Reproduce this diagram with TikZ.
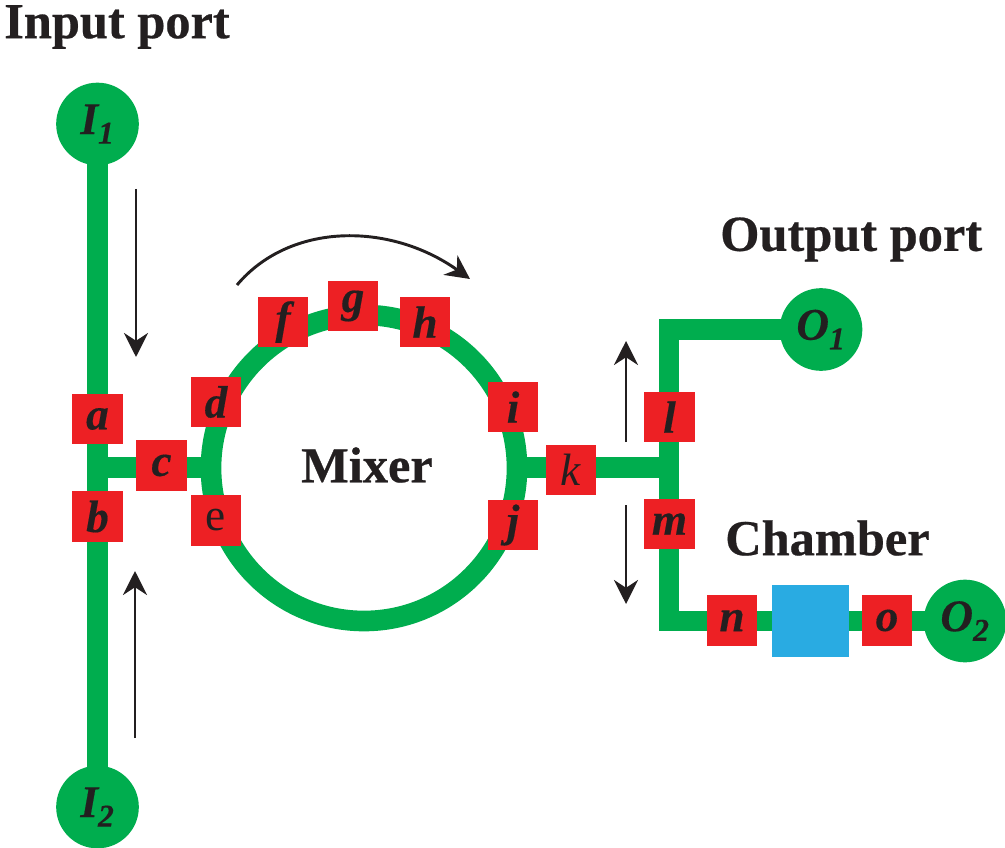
\documentclass[tikz,border=0pt]{standalone}
\usepackage{fontspec}
\setmainfont{Liberation Serif}
\newfontfamily\headfont[FakeBold=0.5]{Liberation Serif Bold}
\newfontfamily\labfont[FakeBold=0.3]{Liberation Serif Bold Italic}
\usetikzlibrary{arrows.meta,backgrounds}
\definecolor{grn}{RGB}{0,173,78}
\definecolor{rd}{RGB}{237,32,36}
\definecolor{blu}{RGB}{41,171,226}
\definecolor{ink}{RGB}{35,31,32}
\tikzset{
 x=0.75pt,y=-0.75pt,
 pipe/.style={draw=grn,line width=15.5pt},
 port/.style={circle,fill=grn,minimum size=62pt,inner sep=0pt},
 portlab/.style={font=\fontsize{34pt}{34pt}\labfont,text=ink,inner sep=0pt},
 valve/.style={rectangle,fill=rd,minimum size=38pt,inner sep=0pt,font=\fontsize{34pt}{34pt}\labfont,text=ink},
 title/.style={font=\fontsize{37.8pt}{38pt}\headfont,text=ink,inner sep=0pt},
 flow/.style={draw=ink,line width=2.2pt,-{Stealth[length=18pt,width=18pt]}}
}
\begin{document}
\begin{tikzpicture}
\useasboundingbox (0,0) rectangle (1005,848);
\coordinate (ringc) at (364,468);
\coordinate (jL) at (97.5,467.5);
\coordinate (jR) at (669,467.5);
\coordinate (ringL) at (215,467.5);
\coordinate (ringR) at (517,467.5);
\node[port] (I1) at (97.5,124) {};
\node[port] (I2) at (97.5,807) {};
\node[port] (O1) at (821,329.5) {};
\node[port] (O2) at (965,621) {};
\coordinate (cor1) at (669,329.5);
\coordinate (cor2) at (669,621);
\begin{pgfonlayer}{background}
\draw[pipe] (I1.center) -- (I2.center);
\draw[pipe] (jL) -- (ringL);
\draw[pipe] (ringc) circle (153);
\draw[pipe] (ringR) -- (jR);
\draw[pipe,line join=miter] (O1.center) -- (cor1) -- (cor2) -- (O2.center);
\end{pgfonlayer}
\node[inner sep=0,fill=blu,minimum width=58pt,minimum height=54pt] (ch) at (810.5,621) {};
\node[valve] (a) at (97.5,419) {a};
\node[valve] (b) at (97.5,516.5) {b};
\node[valve] (c) at (161.5,465.5) {c};
\node[valve] (d) at (216,402) {d};
\node[valve,font=\fontsize{34pt}{34pt}\selectfont] (e) at (216,520.5) {e};
\node[valve] (f) at (283,322) {f};
\node[valve] (g) at (353,306) {g};
\node[valve] (h) at (425,322) {h};
\node[valve] (i) at (513,407) {i};
\node[valve] (j) at (513,525) {j};
\node[valve,font=\fontsize{34pt}{34pt}\selectfont\itshape] (k) at (571,470) {k};
\node[valve] (l) at (669.5,417) {l};
\node[valve] (m) at (669.5,524) {m};
\node[valve] (n) at (732,620.5) {n};
\node[valve] (o) at (887,620.5) {o};
\node[portlab] at (I1) {I\textsubscript{1}};
\node[portlab] at (I2) {I\textsubscript{2}};
\node[portlab] at (O1) {O\textsubscript{1}};
\node[portlab] at (O2) {O\textsubscript{2}};
\node[title,anchor=west] (t1) at (4,27) {Input port};
\node[title,anchor=west] (t2) at (720,239.5) {Output port};
\node[title,anchor=west] (t3) at (725,538) {Chamber};
\node[title] (t4) at (367,465) {Mixer};
\coordinate (a1s) at (136,189); \coordinate (a1e) at (136,357);
\coordinate (a2s) at (135,738); \coordinate (a2e) at (135,571);
\coordinate (a3s) at (237,285); \coordinate (a3e) at (470,279);
\coordinate (a4s) at (626,442); \coordinate (a4e) at (626,341);
\coordinate (a5s) at (626,505); \coordinate (a5e) at (626,604);
\draw[flow] (a1s) -- (a1e);
\draw[flow] (a2s) -- (a2e);
\draw[flow] (a3s) .. controls (290,222) and (390,222) .. (a3e);
\draw[flow] (a4s) -- (a4e);
\draw[flow] (a5s) -- (a5e);
\end{tikzpicture}
\end{document}
